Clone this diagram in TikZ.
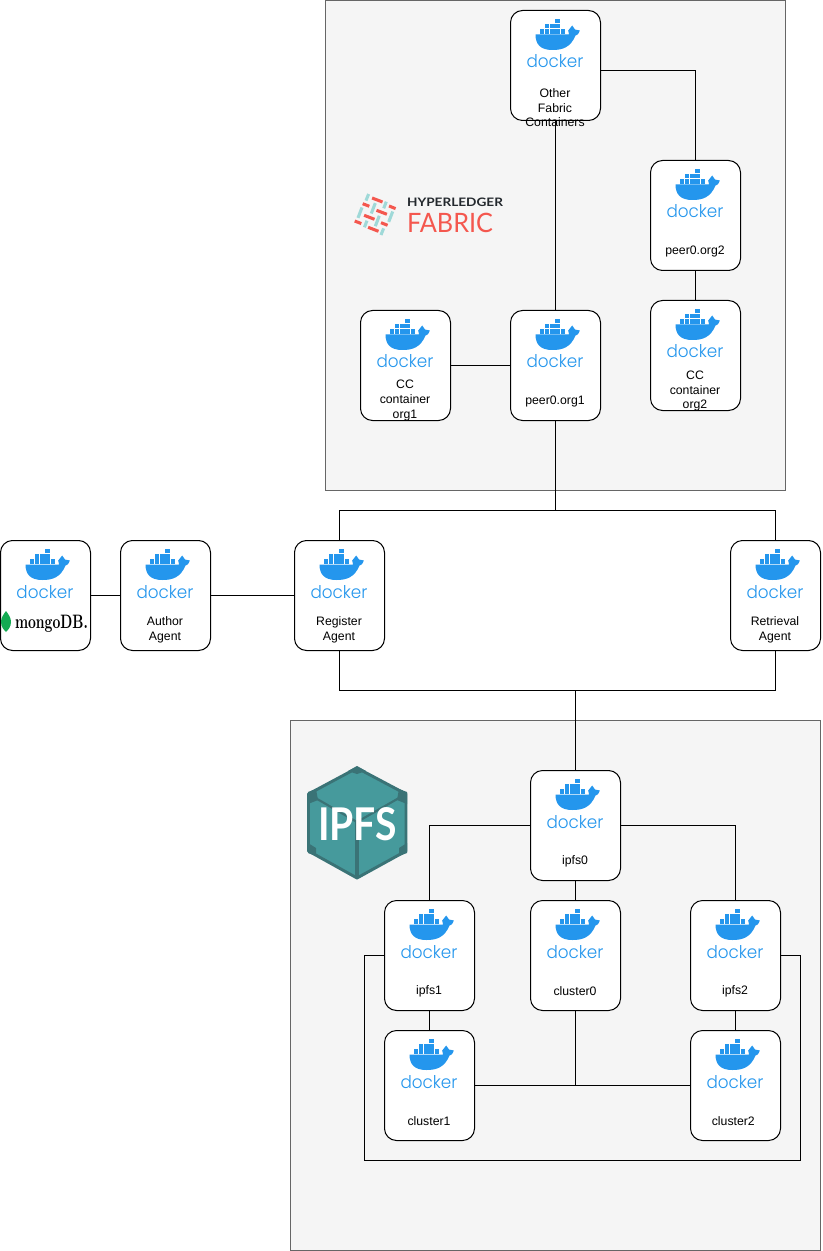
\documentclass[tikz,border=0pt]{standalone}
\usepackage{fontspec}
\usepackage{graphicx}
\setsansfont{Liberation Sans}
\newfontfamily\dockerfont{Poppins Light}
\newfontfamily\logofont{Lato}
\usetikzlibrary{calc}
\definecolor{panelfill}{HTML}{F5F5F5}
\definecolor{paneldraw}{HTML}{666666}
\definecolor{dockerblue}{HTML}{2496ED}
\definecolor{fabricred}{HTML}{F4574E}
\definecolor{fabricteal}{HTML}{9FD9D8}
\definecolor{ledgerdark}{HTML}{23282D}
\definecolor{ipfsteal}{HTML}{469A9C}
\definecolor{ipfsdark}{HTML}{3A7376}
\definecolor{mongogreen}{HTML}{13AA52}
\tikzset{
  panel/.style={draw=paneldraw,fill=panelfill,line width=0.75pt},
  dockerbox/.style={draw=black,fill=white,rounded corners=9pt,line width=0.75pt,minimum width=67.5pt,minimum height=82.5pt,inner sep=0pt,outer sep=0pt},
  boxlabel/.style={font=\sffamily\fontsize{9.2}{10.9}\selectfont,align=center,inner sep=0pt,text=black},
  wire/.style={draw=black,line width=0.75pt},
  redbar/.style={draw=fabricred,line width=2.3pt},
  tealbar/.style={draw=fabricteal,line width=2.3pt},
  logotext/.style={inner sep=0pt,outer sep=0pt,anchor=base west},
  dockerlogo/.pic={
    \fill[dockerblue] (-20,-31) -- (13.5,-31) -- (12.7,-35) -- (16.7,-40) -- (19.5,-36) -- (24.3,-35) .. controls (23,-31) and (21,-30) .. (20,-30) .. controls (15,-18) and (7,-15.5) .. (-3,-15.5) .. controls (-15,-15.5) and (-20,-21) .. (-20,-31) -- cycle;
    \foreach \bx in {-16,-10.7,-5.4,-0.1,5.2} \fill[dockerblue] (\bx,-36.3) rectangle ++(4.6,4.6);
    \foreach \bx in {-10.7,-5.4,-0.1} \fill[dockerblue] (\bx,-41.6) rectangle ++(4.6,4.6);
    \fill[dockerblue] (-0.1,-46.9) rectangle ++(4.6,4.6);
    \node[inner sep=0pt,outer sep=0pt,anchor=base,text=dockerblue] (-word) at (-0.5,2.5) {\resizebox{42.75pt}{9.75pt}{\dockerfont docker}};
  }
}
\begin{document}
\begin{tikzpicture}[x=0.75pt,y=-0.75pt]
\useasboundingbox (0,0) rectangle (822,1251);
\path[panel] (325.5,0.5) rectangle (785.5,490.5);
\path[panel] (290.5,720.5) rectangle (820.5,1250.5);

\foreach \bx/\by in {360/212.7,373.3/208.3,390.7/216.7,377.3/221}
  \draw[tealbar] (\bx,\by) ++(2,-5.2) -- ++(-4,10.4);
\foreach \bx/\by in {367.3/197.3,385/205,365.7/224,382.3/231.7}
  \draw[tealbar] (\bx,\by) ++(1.3,-3.3) -- ++(-2.6,6.6);
\foreach \bx/\by in {377.3/200,381.7/212.3,369.3/217.3,373.3/229.3}
  \draw[redbar] (\bx,\by) ++(-5.2,-2) -- ++(10.4,4);
\foreach \bx/\by in {366/205,392.3/207.3,358/222.3,384.3/224}
  \draw[redbar] (\bx,\by) ++(-3.3,-1.3) -- ++(6.6,2.6);
\node[logotext,text=ledgerdark] (ledgerword) at (407,207) {\resizebox{72pt}{6.4pt}{\logofont\bfseries HYPERLEDGER}};
\node[logotext,text=fabricred] (fabricword) at (407,232.7) {\resizebox{64.5pt}{14.5pt}{\logofont FABRIC}};

\draw[draw=ipfsdark,fill=ipfsteal,line width=2.2pt,line join=round] (357,768) -- (406,794) -- (406,851) -- (357,878) -- (308.5,851) -- (308.5,794) -- cycle;
\draw[ipfsdark,line width=1.6pt] (308.5,794) -- (357,822) -- (406,794);
\draw[ipfsdark,line width=2.4pt] (357,822) -- (357,878);
\fill[ipfsdark] (348,771) -- (357,766) -- (366,771) -- (357,774) -- cycle;
\fill[ipfsdark] (308,792) -- (316,789) -- (318,800) -- (308,804) -- cycle;
\fill[ipfsdark] (407,792) -- (399,789) -- (397,800) -- (407,804) -- cycle;
\fill[ipfsdark] (308,853) -- (308,843) -- (316,848) -- (316,856) -- cycle;
\fill[ipfsdark] (407,853) -- (407,843) -- (399,848) -- (399,856) -- cycle;
\node[logotext,text=white] (ipfsword) at (318,840) {\resizebox{59.25pt}{24.75pt}{\logofont\bfseries IPFS}};

\foreach \nm/\cx/\cy/\ly/\txt in {
  other/555.5/65.5/108/{Other\\Fabric\\Containers},
  peertwo/695.5/215.5/251/{peer0.org2},
  cctwo/695.5/355.5/391/{CC\\container\\org2},
  ccone/405.5/365.5/400.5/{CC\\container\\org1},
  peerone/555.5/365.5/401/{peer0.org1},
  author/165.5/595.5/630/{Author\\Agent},
  register/339.5/595.5/630/{Register\\Agent},
  retrieval/775.5/595.5/630/{Retrieval\\Agent},
  ipfszero/575.5/825.5/861/{ipfs0},
  ipfsone/429.5/955.5/991/{ipfs1},
  clusterzero/575.5/955.5/991/{cluster0},
  ipfstwo/735.5/955.5/991/{ipfs2},
  clusterone/429.5/1085.5/1121/{cluster1},
  clustertwo/735.5/1085.5/1121/{cluster2}
}{
  \node[dockerbox] (\nm) at (\cx,\cy) {};
  \pic (\nm logo) at (\cx,\cy) {dockerlogo};
  \node[boxlabel] (\nm label) at (\cx-0.5,\ly) {\txt};
}
\node[dockerbox] (mongo) at (45.5,595.5) {};
\pic (mongologo) at (45.5,595.5) {dockerlogo};
\fill[mongogreen] (6,611) .. controls (9,615) and (11,618) .. (11,622) .. controls (11,627) and (8,630) .. (6,632) .. controls (4,630) and (1,627) .. (1,622) .. controls (1,618) and (3,615) .. (6,611) -- cycle;
\node[logotext,text=black] (mongoword) at (15,628) {\resizebox{54.75pt}{10pt}{\bfseries mongoDB.}};

\coordinate (fabricjoin) at (555.5,510.5);
\coordinate (ipfsjoin) at (575.5,690.5);
\coordinate (clusterjoin) at (575.5,1085.5);
\coordinate (ringleft) at (364.5,1160.5);
\coordinate (ringright) at (800.5,1160.5);

\draw[wire] (other.east |- 0,70.5) -| (peertwo.north);
\draw[wire] (other.south) -- (peerone.north);
\draw[wire] (peertwo.south) -- (cctwo.north);
\draw[wire] (ccone.east) -- (peerone.west);
\draw[wire] (peerone.south) -- (fabricjoin);
\draw[wire] (register.north) |- (retrieval.north |- fabricjoin) -- (retrieval.north);
\draw[wire] (mongo.east) -- (author.west);
\draw[wire] (author.east) -- (register.west);
\draw[wire] (register.south) |- (retrieval.south |- ipfsjoin) -- (retrieval.south);
\draw[wire] (ipfszero.north) -- (ipfsjoin);
\draw[wire] (ipfszero.west) -| (ipfsone.north);
\draw[wire] (ipfszero.east) -| (ipfstwo.north);
\draw[wire] (ipfszero.south) -- (clusterzero.north);
\draw[wire] (ipfsone.south) -- (clusterone.north);
\draw[wire] (ipfstwo.south) -- (clustertwo.north);
\draw[wire] (clusterone.east) -- (clustertwo.west);
\draw[wire] (clusterzero.south) -- (clusterjoin);
\draw[wire] (ipfsone.west) -| (ringleft) -- (ringright) |- (ipfstwo.east);
\end{tikzpicture}
\end{document}
